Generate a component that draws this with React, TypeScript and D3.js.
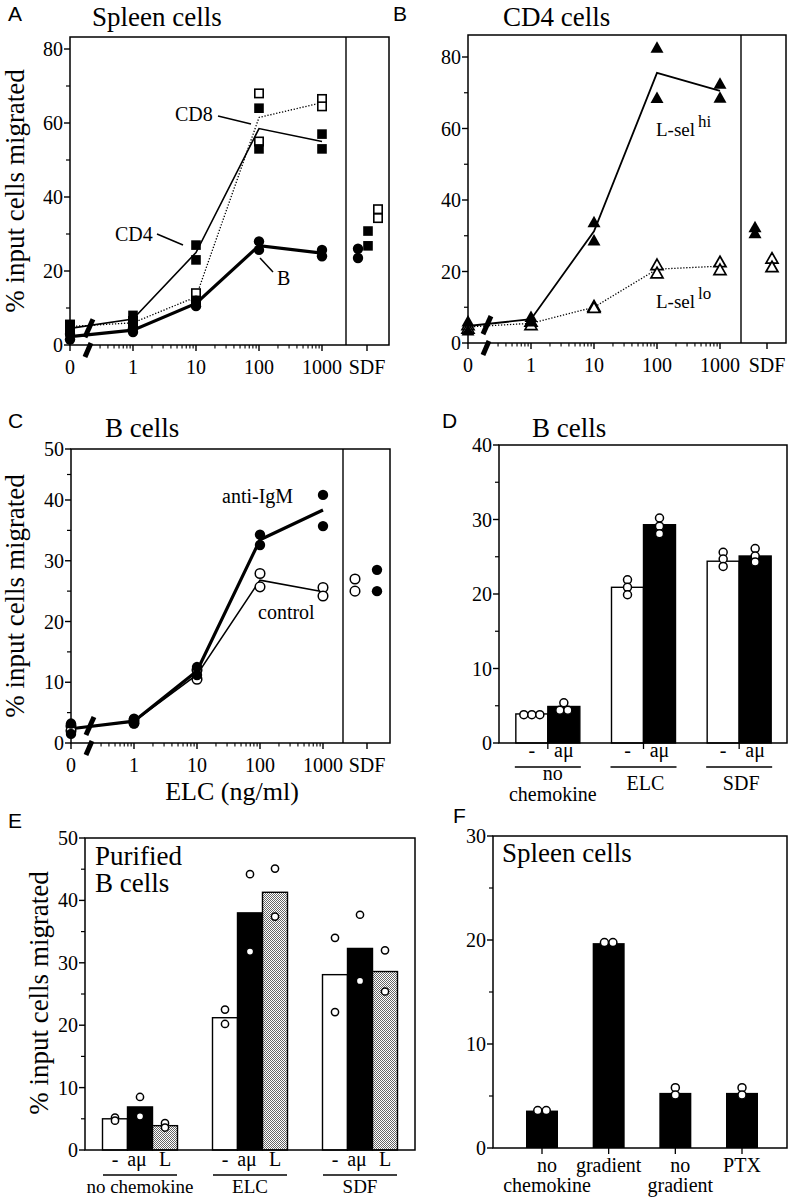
import React from 'react';
import * as d3 from 'd3';

const SERIF = '"Liberation Serif", "Times New Roman", Times, serif';
const SANS = '"Liberation Sans", Arial, Helvetica, sans-serif';

// ---------- shared x categories for dose panels ----------
const CONC = [0, 1, 10, 100, 1000];
const CONC_LABELS = ['0', '1', '10', '100', '1000'];

// ---------- Panel A : Spleen cells ----------
const A_CD4 = [[5.5, 3.5], [8, 6], [27, 23], [64, 53], [57, 53]];
const A_CD8 = [[5.5, 4.5], [6.5, 5.5], [14, 12], [68, 55], [66.5, 64.5]];
const A_B = [[3, 1.5], [4.5, 3.5], [12, 10.5], [28, 25.7], [25.7, 24]];
const A_SDF_B = [26, 23.5];
const A_SDF_CD4 = [30.8, 26.8];
const A_SDF_CD8 = [36.7, 34.3];
const A_YMAJOR = [0, 20, 40, 60, 80];
const A_YMINOR = [10, 30, 50, 70];

// ---------- Panel B : CD4 cells ----------
const B_HI = [[6, 3.5], [7.3, 6], [33.8, 28.7], [82.6, 68.5], [72.5, 68.6]];
const B_LO = [[5, 4], [6, 5], [10.2, 9.8], [21.8, 19.5], [22.6, 20.4]];
const B_SDF_HI = [32.4, 30.7];
const B_SDF_LO = [23.6, 21.2];
const B_YMAJOR = [0, 20, 40, 60, 80];
const B_YMINOR = [10, 30, 50, 70];

// ---------- Panel C : B cells ----------
const C_IGM = [[3.2, 1.5], [4, 3.2], [12.5, 11.2], [34.3, 32.6], [41, 35.7]];
const C_CTRL = [[2.8, 2], [3.8, 3.3], [12, 10.5], [27.9, 25.7], [25.6, 24.2]];
const C_SDF_CTRL = [27, 25];
const C_SDF_IGM = [28.5, 25];
const C_YMAJOR = [0, 10, 20, 30, 40, 50];
const C_YMINOR = [5, 15, 25, 35, 45];

// ---------- Panel D : B cells bars ----------
const D_GROUP_LINES = [['no', 'chemokine'], ['ELC'], ['SDF']];
const D_TREAT = ['-', 'aμ'];
const D_CTRL = [3.9, 20.9, 24.4];
const D_AMU = [4.9, 29.3, 25.1];
const D_CTRL_DOTS = [[3.8, 3.8, 3.8], [21.9, 20.9, 19.9], [25.6, 24.7, 23.7]];
const D_AMU_DOTS = [[5.4, 4.4, 4.4], [30.2, 29.1, 28.1], [26.1, 25.1, 24.3]];
const D_YMAJOR = [0, 10, 20, 30, 40];
const D_YMINOR = [5, 15, 25, 35];

// ---------- Panel E : Purified B cells ----------
const E_GROUPS = ['no chemokine', 'ELC', 'SDF'];
const E_TREAT = ['-', 'aμ', 'L'];
const E_CTRL = [5, 21.2, 28.1];
const E_AMU = [6.9, 38, 32.3];
const E_L = [3.9, 41.3, 28.6];
const E_CTRL_DOTS = [[5.2, 4.7], [22.5, 20.2], [34, 22.1]];
const E_AMU_DOTS = [[8.5, 5.4], [44.2, 31.8], [37.7, 27.1]];
const E_L_DOTS = [[4.3, 3.6], [45.1, 37.4], [32, 25.4]];
const E_YMAJOR = [0, 10, 20, 30, 40, 50];
const E_YMINOR = [5, 15, 25, 35, 45];

// ---------- Panel F : Spleen cells bars ----------
const F_CATS = ['nochem', 'gradient', 'nograd', 'PTX'];
const F_CAT_LINES = [['no', 'chemokine'], ['gradient'], ['no', 'gradient'], ['PTX']];
const F_VALS = [3.6, 19.7, 5.3, 5.3];
const F_DOTS = [[3.6, 3.6], [19.75, 19.75], [5.8, 5.1], [5.8, 5.1]];
const F_YMAJOR = [0, 10, 20, 30];
const F_YMINOR = [5, 15, 25];

type Scale = (v: number) => number;

function jitter(vals: number[], y: Scale, spacing: number) {
  const items = vals.map((v) => ({ v, py: y(v), dx: 0 }));
  const sorted = [...items].sort((a, b) => a.py - b.py);
  const groups: typeof items[] = [];
  for (const it of sorted) {
    const g = groups[groups.length - 1];
    if (g && Math.abs(g[g.length - 1].py - it.py) < 2) g.push(it);
    else groups.push([it]);
  }
  groups.forEach((g) => g.forEach((it, i) => { it.dx = (i - (g.length - 1) / 2) * spacing; }));
  return items;
}

function Marker({ shape, x, y }: { shape: string; x: number; y: number }) {
  switch (shape) {
    case 'sq':
      return <rect x={x - 4.8} y={y - 4.8} width={9.6} height={9.6} fill="#000" />;
    case 'osq':
      return <rect x={x - 4.2} y={y - 4.2} width={8.4} height={8.4} fill="#fff" stroke="#000" strokeWidth={1.6} />;
    case 'ci':
      return <circle cx={x} cy={y} r={5.2} fill="#000" />;
    case 'oci':
      return <circle cx={x} cy={y} r={4.8} fill="#fff" stroke="#000" strokeWidth={1.5} />;
    case 'tri':
      return <path d={`M${x},${y - 6.5}L${x + 6.5},${y + 5}L${x - 6.5},${y + 5}Z`} fill="#000" />;
    case 'otri':
      return <path d={`M${x},${y - 6}L${x + 6},${y + 4.5}L${x - 6},${y + 4.5}Z`} fill="#fff" stroke="#000" strokeWidth={1.7} strokeLinejoin="miter" />;
    default:
      return null;
  }
}

function YAxis({ left, y, major, minor, labelSize = 20 }: { left: number; y: Scale; major: number[]; minor: number[]; labelSize?: number }) {
  return (
    <g>
      {major.map((v) => (
        <g key={'M' + v}>
          <line x1={left - 6} x2={left} y1={y(v)} y2={y(v)} stroke="#000" strokeWidth={1.4} />
          <text x={left - 7} y={y(v)} dy="0.35em" textAnchor="end" fontFamily={SERIF} fontSize={labelSize}>{v}</text>
        </g>
      ))}
      {minor.map((v) => (
        <line key={'m' + v} x1={left - 4} x2={left} y1={y(v)} y2={y(v)} stroke="#000" strokeWidth={1.2} />
      ))}
    </g>
  );
}

type LogSeries = { reps: number[][]; shape: string; lineW: number; dash?: string };
type SdfSeries = { vals: number[]; shape: string; key: string };

function LogPanel(props: {
  left: number; right: number; top: number; y: Scale; sep: number; sdfX: number;
  yMajor: number[]; yMinor: number[]; series: LogSeries[]; sdf: SdfSeries[]; sdfRange: [number, number];
  breakVal: number; children?: React.ReactNode;
}) {
  const { left, right, top, y, sep, sdfX, yMajor, yMinor, series, sdf, sdfRange, breakVal } = props;
  const bottom = y(0);
  const x = d3.scaleLog().domain([0.1, 1000]).range([left, left + 252]);
  const xp = (c: number) => x(c === 0 ? 0.1 : c);
  const sdfScale = d3.scalePoint<string>().domain(sdf.map((s) => s.key)).range(sdfRange);
  const minor: number[] = [];
  [0.1, 1, 10, 100].forEach((d) => d3.range(2, 10).forEach((k) => minor.push(d * k)));
  const bx = x(0.2);
  const by = y(breakVal);
  return (
    <g>
      <rect x={left} y={top} width={right - left} height={bottom - top} fill="none" stroke="#000" strokeWidth={1.5} />
      <line x1={sep} x2={sep} y1={top} y2={bottom} stroke="#000" strokeWidth={1.4} />
      <YAxis left={left} y={y} major={yMajor} minor={yMinor} />
      {CONC.map((c, i) => (
        <g key={c}>
          <line x1={xp(c)} x2={xp(c)} y1={bottom} y2={bottom + 6} stroke="#000" strokeWidth={1.4} />
          <text x={xp(c)} y={bottom + 29} textAnchor="middle" fontFamily={SERIF} fontSize={20}>{CONC_LABELS[i]}</text>
        </g>
      ))}
      {minor.map((m) => (
        <line key={m} x1={x(m)} x2={x(m)} y1={bottom} y2={bottom + 3.5} stroke="#000" strokeWidth={1.1} />
      ))}
      <line x1={sdfX} x2={sdfX} y1={bottom} y2={bottom + 6} stroke="#000" strokeWidth={1.4} />
      <text x={sdfX} y={bottom + 29} textAnchor="middle" fontFamily={SERIF} fontSize={20}>SDF</text>
      {series.map((s, si) => {
        const means = s.reps.map((r) => d3.mean(r) as number);
        const path = d3.line<number>().x((_, i) => xp(CONC[i])).y((v) => y(v))(means) || '';
        return <path key={si} d={path} fill="none" stroke="#000" strokeWidth={s.lineW} strokeDasharray={s.dash} />;
      })}
      {series.map((s, si) => (
        <g key={'p' + si}>
          {s.reps.map((r, i) => r.map((v, j) => <Marker key={i + '-' + j} shape={s.shape} x={xp(CONC[i])} y={y(v)} />))}
        </g>
      ))}
      {sdf.map((s) => (
        <g key={s.key}>
          {s.vals.map((v, j) => <Marker key={j} shape={s.shape} x={sdfScale(s.key) as number} y={y(v)} />)}
        </g>
      ))}
      <line x1={bx - 4} y1={by + 9} x2={bx + 4} y2={by - 9} stroke="#000" strokeWidth={5} />
      <line x1={bx - 4} y1={bottom + 12} x2={bx + 2} y2={bottom - 2} stroke="#000" strokeWidth={5} />
      {props.children}
    </g>
  );
}

function Dots({ vals, cx, y, r, spacing }: { vals: number[]; cx: number; y: Scale; r: number; spacing: number }) {
  const items = jitter(vals, y, spacing);
  return (
    <g>
      {items.map((it, i) => (
        <circle key={i} cx={cx + it.dx} cy={it.py} r={r} fill="#fff" stroke="#000" strokeWidth={1.5} />
      ))}
    </g>
  );
}

function PanelD() {
  const left = 499, right = 787, top = 445;
  const y = d3.scaleLinear().domain([0, 40]).range([743, 445]);
  const bottom = y(0);
  const xg = d3.scaleBand<number>().domain(d3.range(D_GROUP_LINES.length)).range([500, 787]);
  const xt = d3.scaleBand<string>().domain(D_TREAT).range([-32, 32]);
  const vals = [D_CTRL, D_AMU];
  const dots = [D_CTRL_DOTS, D_AMU_DOTS];
  const fills = ['#fff', '#000'];
  return (
    <g>
      {D_GROUP_LINES.map((lines, gi) => {
        const gc = (xg(gi) as number) + xg.bandwidth() / 2;
        return (
          <g key={gi}>
            {D_TREAT.map((t, ti) => {
              const bx = gc + (xt(t) as number);
              const w = xt.bandwidth();
              return (
                <g key={t}>
                  <rect x={bx} y={y(vals[ti][gi])} width={w} height={bottom - y(vals[ti][gi])} fill={fills[ti]} stroke="#000" strokeWidth={1.4} />
                </g>
              );
            })}
            {D_TREAT.map((t, ti) => (
              <Dots key={'d' + t} vals={dots[ti][gi]} cx={gc + (xt(t) as number) + xt.bandwidth() / 2} y={y} r={4} spacing={8} />
            ))}
            <line x1={gc} x2={gc} y1={bottom} y2={bottom + 6} stroke="#000" strokeWidth={1.3} />
            {D_TREAT.map((t) => (
              <text key={'l' + t} x={gc + (xt(t) as number) + xt.bandwidth() / 2} y={757} textAnchor="middle" fontFamily={SERIF} fontSize={20}>{t}</text>
            ))}
            <line x1={gc - 33} x2={gc + 33} y1={767} y2={767} stroke="#000" strokeWidth={1.5} />
            {lines.length === 2 ? (
              <g>
                <text x={gc + 5} y={780} textAnchor="middle" fontFamily={SERIF} fontSize={20}>{lines[0]}</text>
                <text x={gc + 5} y={801} textAnchor="middle" fontFamily={SERIF} fontSize={20}>{lines[1]}</text>
              </g>
            ) : (
              <text x={gc + 2} y={790} textAnchor="middle" fontFamily={SERIF} fontSize={20}>{lines[0]}</text>
            )}
          </g>
        );
      })}
      <rect x={left} y={top} width={right - left} height={bottom - top} fill="none" stroke="#000" strokeWidth={1.5} />
      <YAxis left={left} y={y} major={D_YMAJOR} minor={D_YMINOR} />
    </g>
  );
}

function PanelE() {
  const left = 85, right = 415, top = 838;
  const y = d3.scaleLinear().domain([0, 50]).range([1150, 838]);
  const bottom = y(0);
  const xg = d3.scaleBand<string>().domain(E_GROUPS).range([left, right]);
  const xt = d3.scaleBand<string>().domain(E_TREAT).range([-37.5, 37.5]);
  const vals = [E_CTRL, E_AMU, E_L];
  const dots = [E_CTRL_DOTS, E_AMU_DOTS, E_L_DOTS];
  const fills = ['#fff', '#000', 'url(#stipple)'];
  return (
    <g>
      {E_GROUPS.map((g, gi) => {
        const gc = (xg(g) as number) + xg.bandwidth() / 2;
        return (
          <g key={g}>
            {E_TREAT.map((t, ti) => (
              <rect key={t} x={gc + (xt(t) as number)} y={y(vals[ti][gi])} width={xt.bandwidth()} height={bottom - y(vals[ti][gi])} fill={fills[ti]} stroke="#000" strokeWidth={1.4} />
            ))}
            {E_TREAT.map((t, ti) => (
              <Dots key={'d' + t} vals={dots[ti][gi]} cx={gc + (xt(t) as number) + xt.bandwidth() / 2} y={y} r={3.6} spacing={7} />
            ))}
            {E_TREAT.map((t) => (
              <text key={'l' + t} x={gc + (xt(t) as number) + xt.bandwidth() / 2 - (t === 'aμ' ? 3 : 0)} y={1166} textAnchor="middle" fontFamily={SERIF} fontSize={20}>{t}</text>
            ))}
            <line x1={gc - 37} x2={gc + 37} y1={1175} y2={1175} stroke="#000" strokeWidth={1.5} />
            <text x={gc} y={1193} textAnchor="middle" fontFamily={SERIF} fontSize={19}>{g}</text>
          </g>
        );
      })}
      <rect x={left} y={top} width={right - left} height={bottom - top} fill="none" stroke="#000" strokeWidth={1.5} />
      <YAxis left={left} y={y} major={E_YMAJOR} minor={E_YMINOR} />
      <text x={95} y={865} fontFamily={SERIF} fontSize={27}>Purified</text>
      <text x={95} y={892} fontFamily={SERIF} fontSize={27}>B cells</text>
    </g>
  );
}

function PanelF() {
  const left = 493, right = 787, top = 836;
  const y = d3.scaleLinear().domain([0, 30]).range([1148, 836]);
  const bottom = y(0);
  const x = d3.scalePoint<string>().domain(F_CATS).range([542, 742]);
  const bw = 32;
  return (
    <g>
      {F_CATS.map((c, i) => {
        const cx = x(c) as number;
        const lines = F_CAT_LINES[i];
        return (
          <g key={c}>
            <rect x={cx - bw / 2} y={y(F_VALS[i])} width={bw} height={bottom - y(F_VALS[i])} fill="#000" />
            <Dots vals={F_DOTS[i]} cx={cx} y={y} r={4} spacing={8.5} />
            <line x1={cx} x2={cx} y1={bottom} y2={bottom + 6} stroke="#000" strokeWidth={1.3} />
            {lines.map((l, li) => (
              <text key={li} x={cx + (lines.length === 2 ? 5 : 0)} y={1172 + li * 20} textAnchor="middle" fontFamily={SERIF} fontSize={20}>{l}</text>
            ))}
          </g>
        );
      })}
      <rect x={left} y={top} width={right - left} height={bottom - top} fill="none" stroke="#000" strokeWidth={1.5} />
      <YAxis left={left} y={y} major={F_YMAJOR} minor={F_YMINOR} />
      <text x={502} y={862} fontFamily={SERIF} fontSize={27}>Spleen cells</text>
    </g>
  );
}

function YLabel({ x, y }: { x: number; y: number }) {
  return (
    <text transform={`translate(${x},${y}) rotate(-90)`} textAnchor="middle" fontFamily={SERIF} fontSize={27}>% input cells migrated</text>
  );
}

function SupLabel({ x, y, base, sup }: { x: number; y: number; base: string; sup: string }) {
  return (
    <text x={x} y={y} fontFamily={SERIF} fontSize={19}>
      {base}
      <tspan dx={3} dy={-9} fontSize={17}>{sup}</tspan>
    </text>
  );
}

export default function App() {
  React.useEffect(() => { document.body.style.margin = '0'; }, []);
  const yA = d3.scaleLinear().domain([0, 80]).range([345, 49]);
  const yB = d3.scaleLinear().domain([0, 80]).range([343, 57]);
  const yC = d3.scaleLinear().domain([0, 40, 50]).range([743, 500, 449]);
  return (
    <svg width={792} height={1199} style={{ position: 'absolute', left: 0, top: 0, background: '#fff' }}>
      <defs>
        <pattern id="stipple" width={2} height={2} patternUnits="userSpaceOnUse">
          <rect width={2} height={2} fill="#fff" />
          <rect x={0} y={0} width={1} height={1} fill="#666" />
          <rect x={1} y={1} width={1} height={1} fill="#666" />
        </pattern>
      </defs>
      <rect width={792} height={1199} fill="#fff" />

      {/* Panel A */}
      <text x={8} y={21} fontFamily={SANS} fontSize={21}>A</text>
      <text x={92} y={26} fontFamily={SERIF} fontSize={27}>Spleen cells</text>
      <YLabel x={24} y={191} />
      <LogPanel left={70} right={389} top={37} y={yA} sep={346} sdfX={367} yMajor={A_YMAJOR} yMinor={A_YMINOR}
        series={[
          { reps: A_CD8, shape: 'osq', lineW: 1.3, dash: '1.3 1.7' },
          { reps: A_CD4, shape: 'sq', lineW: 1.6 },
          { reps: A_B, shape: 'ci', lineW: 3.2 },
        ]}
        sdf={[
          { key: 'B', vals: A_SDF_B, shape: 'ci' },
          { key: 'CD4', vals: A_SDF_CD4, shape: 'sq' },
          { key: 'CD8', vals: A_SDF_CD8, shape: 'osq' },
        ]}
        sdfRange={[358, 378]} breakVal={4.5}>
        <text x={175} y={121} fontFamily={SERIF} fontSize={20}>CD8</text>
        <line x1={218} y1={116} x2={251} y2={124} stroke="#000" strokeWidth={1.5} />
        <text x={115} y={241} fontFamily={SERIF} fontSize={20}>CD4</text>
        <line x1={157} y1={234} x2={183} y2={245} stroke="#000" strokeWidth={1.5} />
        <text x={277} y={285} fontFamily={SERIF} fontSize={20}>B</text>
        <line x1={260} y1={258} x2={273} y2={272} stroke="#000" strokeWidth={1.5} />
      </LogPanel>

      {/* Panel B */}
      <text x={393} y={21} fontFamily={SANS} fontSize={21}>B</text>
      <text x={503} y={26} fontFamily={SERIF} fontSize={27}>CD4 cells</text>
      <LogPanel left={468} right={786} top={35} y={yB} sep={741} sdfX={767} yMajor={B_YMAJOR} yMinor={B_YMINOR}
        series={[
          { reps: B_LO, shape: 'otri', lineW: 1.3, dash: '1.3 1.7' },
          { reps: B_HI, shape: 'tri', lineW: 1.8 },
        ]}
        sdf={[
          { key: 'hi', vals: B_SDF_HI, shape: 'tri' },
          { key: 'lo', vals: B_SDF_LO, shape: 'otri' },
        ]}
        sdfRange={[755, 772]} breakVal={5}>
        <SupLabel x={656} y={136} base="L-sel" sup="hi" />
        <SupLabel x={656} y={308} base="L-sel" sup="lo" />
      </LogPanel>

      {/* Panel C */}
      <text x={8} y={428} fontFamily={SANS} fontSize={21}>C</text>
      <text x={105} y={437} fontFamily={SERIF} fontSize={27}>B cells</text>
      <YLabel x={24} y={596} />
      <LogPanel left={71} right={390} top={449} y={yC} sep={343} sdfX={367} yMajor={C_YMAJOR} yMinor={C_YMINOR}
        series={[
          { reps: C_CTRL, shape: 'oci', lineW: 1.5 },
          { reps: C_IGM, shape: 'ci', lineW: 3.2 },
        ]}
        sdf={[
          { key: 'ctrl', vals: C_SDF_CTRL, shape: 'oci' },
          { key: 'igm', vals: C_SDF_IGM, shape: 'ci' },
        ]}
        sdfRange={[355, 377]} breakVal={2.8}>
        <text x={222} y={503} fontFamily={SERIF} fontSize={20}>anti-IgM</text>
        <text x={258} y={619} fontFamily={SERIF} fontSize={20}>control</text>
      </LogPanel>
      <text x={232} y={800} textAnchor="middle" fontFamily={SERIF} fontSize={26}>ELC (ng/ml)</text>

      {/* Panel D */}
      <text x={442} y={428} fontFamily={SANS} fontSize={21}>D</text>
      <text x={532} y={437} fontFamily={SERIF} fontSize={27}>B cells</text>
      <PanelD />

      {/* Panel E */}
      <text x={8} y={828} fontFamily={SANS} fontSize={21}>E</text>
      <YLabel x={48} y={993} />
      <PanelE />

      {/* Panel F */}
      <text x={453} y={823} fontFamily={SANS} fontSize={21}>F</text>
      <PanelF />
    </svg>
  );
}
